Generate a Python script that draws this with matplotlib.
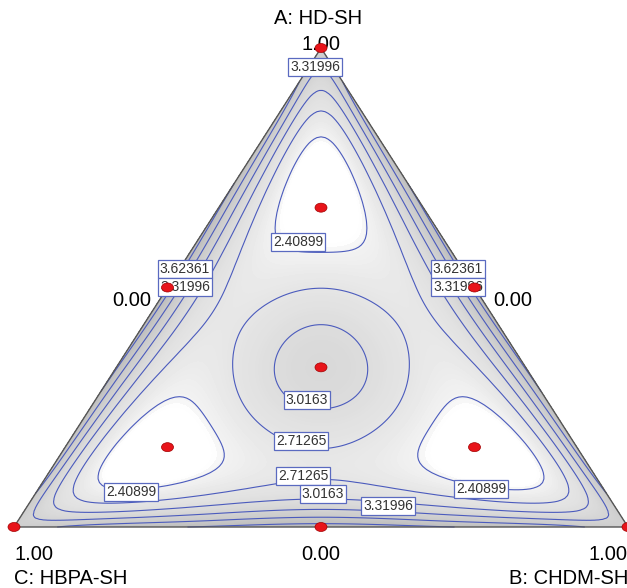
import numpy as np
import matplotlib
matplotlib.use("Agg")
import matplotlib.pyplot as plt
import matplotlib.tri as mtri
from matplotlib.colors import LinearSegmentedColormap
from matplotlib.patches import Ellipse, Polygon

plt.rcParams["font.family"] = ["Liberation Sans", "DejaVu Sans"]

median_a = [0.0, 0.02, 0.045, 0.062, 0.085, 0.12, 0.157, 0.25, 0.333,
            0.415, 0.507, 0.576, 0.69, 0.814, 0.871, 0.908, 0.958, 1.0]
median_resp = [4.05, 3.62, 3.32, 3.02, 2.71, 2.60, 2.71, 3.02, 3.18,
               3.02, 2.71, 2.41, 2.22, 2.41, 2.71, 3.02, 3.32, 3.45]

# response along an edge (A = 0), by the B fraction
edge_b = [0.05, 0.15, 0.3]
edge_resp = [3.55, 3.80, 3.98]

# a few points off the medians (A, B, C)
extra_pts = [(0.666, 0.0823, 0.2517), (0.332, 0.256, 0.412),
             (0.342, 0.181, 0.477)]
extra_resp = [2.41, 3.02, 2.71]

levels = [2.40899, 2.71265, 3.0163, 3.31996, 3.62361, 3.92726]

# simplex centroid design with axial check blends
design_pts = [(1, 0, 0), (0, 1, 0), (0, 0, 1),
              (0.5, 0.5, 0), (0.5, 0, 0.5), (0, 0.5, 0.5),
              (1/3, 1/3, 1/3),
              (2/3, 1/6, 1/6), (1/6, 2/3, 1/6), (1/6, 1/6, 2/3)]

# contour labels: text, x, y (pixels)
contour_labels = [
    ("3.31996", 315, 67), ("2.40899", 298, 242),
    ("3.62361", 185, 269), ("3.31996", 185, 287),
    ("3.62361", 458, 269), ("3.31996", 458, 287),
    ("3.0163", 307, 400), ("2.71265", 301, 441),
    ("2.71265", 303, 476), ("3.0163", 323, 494), ("3.31996", 388, 506),
    ("2.40899", 131, 492), ("2.40899", 481, 489),
]


def to_xy(a, b, c):
    a, b, c = np.asarray(a), np.asarray(b), np.asarray(c)
    return 321 + 307 * (b - c), 527 - 479 * a


def basis(a, b, c):
    e2 = a * b + b * c + c * a
    e3 = a * b * c
    one = np.ones_like(e2)
    return np.stack([one, e2, e3, e2**2, e2 * e3, e2**3, e3**2,
                     e2**2 * e3, e2**4, e2 * e3**2], axis=-1)


# gather the readings and fit a symmetric mixture model
ma = np.array(median_a)
pa = list(ma) + [0.0] * len(edge_b) + [p[0] for p in extra_pts]
pb = list((1 - ma) / 2) + list(edge_b) + [p[1] for p in extra_pts]
pc = list((1 - ma) / 2) + [1 - b for b in edge_b] + [p[2] for p in extra_pts]
resp = median_resp + edge_resp + extra_resp
X = basis(np.array(pa), np.array(pb), np.array(pc))
coef, *_ = np.linalg.lstsq(X, np.array(resp), rcond=None)

# grid over the simplex
n = 150
ii, jj = np.meshgrid(np.arange(n + 1), np.arange(n + 1))
keep = ii + jj <= n
ga = ii[keep] / n
gb = jj[keep] / n
gc = np.clip(1 - ga - gb, 0, 1)
gz = basis(ga, gb, gc) @ coef
gx, gy = to_xy(ga, gb, gc)
tri = mtri.Triangulation(gx, gy)

fig = plt.figure(figsize=(6.27, 5.88), dpi=100)
ax = fig.add_axes([0, 0, 1, 1])
ax.set_xlim(0, 627)
ax.set_ylim(588, 0)
ax.axis("off")

# white in the low pockets, greying towards the edges
cmap = LinearSegmentedColormap.from_list(
    "grey", [(0.0, "#ffffff"), (0.03, "#ffffff"), (0.05, "#f3f3f3"),
             (0.15, "#e9e9e9"), (0.45, "#d8d8d8"), (1.0, "#b2b2b2")])
ax.tricontourf(tri, gz, levels=np.linspace(2.3, 4.3, 80), cmap=cmap,
               vmin=2.3, vmax=4.3, extend="both")
ax.tricontour(tri, gz, levels=levels, colors="#4b5bbd", linewidths=0.8)

vx, vy = to_xy([1, 0, 0], [0, 1, 0], [0, 0, 1])
ax.add_patch(Polygon(np.column_stack([vx, vy]), closed=True, fill=False,
                     ec="#555555", lw=1.0, zorder=3))

for txt, x, y in contour_labels:
    ax.text(x, y, txt, fontsize=10, color="#333333", ha="center",
            va="center", zorder=5,
            bbox=dict(boxstyle="square,pad=0.12", fc="white",
                      ec="#5a6ac0", lw=0.9))

for p in design_pts:
    x, y = to_xy(*p)
    ax.add_patch(Ellipse((x, y), 12, 9, fc="#e8141a", ec="#a00000",
                         lw=0.5, zorder=6))

fs = 14.5
ax.text(318, 18, "A: HD-SH", fontsize=fs, ha="center", va="center")
ax.text(321, 45, "1.00", fontsize=fs, ha="center", va="center")
ax.text(132, 301, "0.00", fontsize=fs, ha="center", va="center")
ax.text(513, 301, "0.00", fontsize=fs, ha="center", va="center")
ax.text(14, 555, "1.00", fontsize=fs, ha="left", va="center")
ax.text(14, 578, "C: HBPA-SH", fontsize=fs, ha="left", va="center")
ax.text(321, 555, "0.00", fontsize=fs, ha="center", va="center")
ax.text(589, 555, "1.00", fontsize=fs, ha="left", va="center")
ax.text(509, 578, "B: CHDM-SH", fontsize=fs, ha="left", va="center")

fig.savefig("out.png", dpi=100)
